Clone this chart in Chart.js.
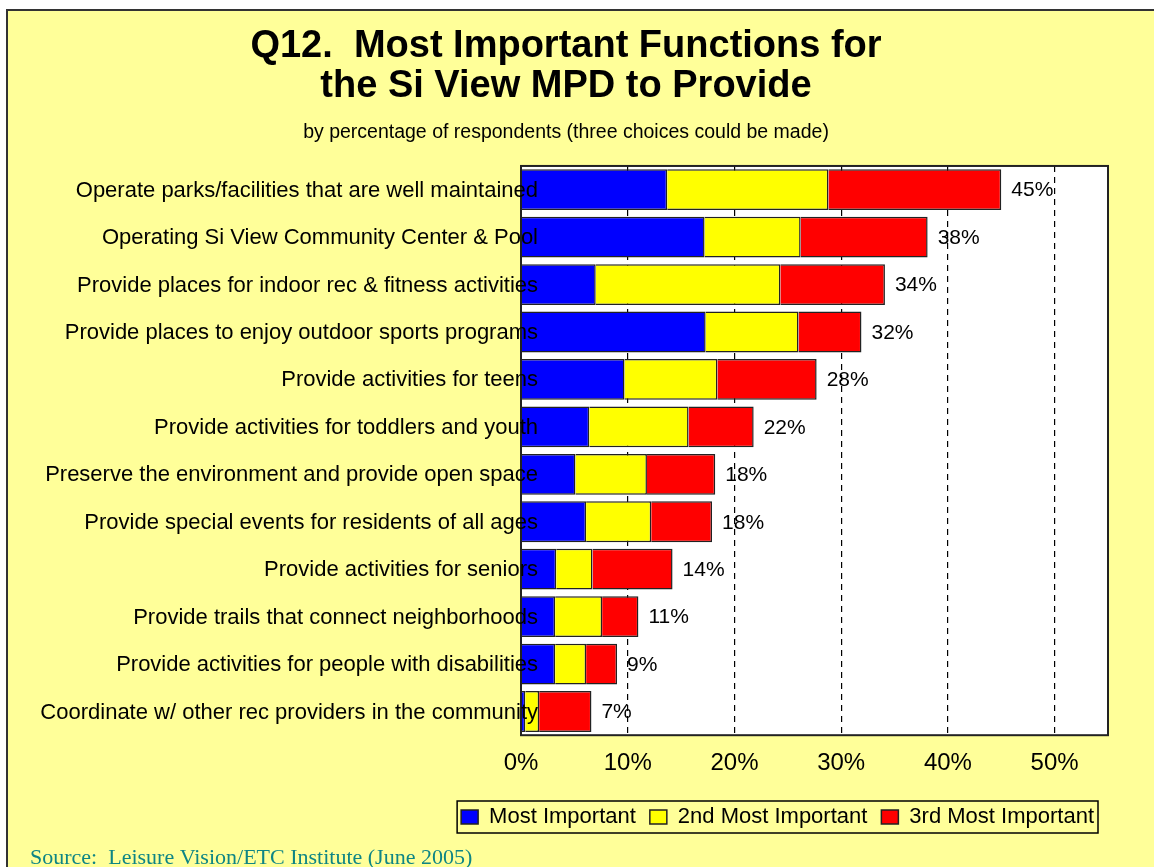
<!DOCTYPE html>
<html>
<head>
<meta charset="utf-8">
<script src="https://cdn.jsdelivr.net/npm/chart.js@4/dist/chart.umd.min.js"></script>
<style>
  html, body { margin: 0; padding: 0; background: #fff; }
  #wrap { width: 1154px; height: 867px; position: relative; }
</style>
</head>
<body>
<div id="wrap"><canvas id="chart"></canvas></div>
<script>
const functions = [
  'Operate parks/facilities that are well maintained',
  'Operating Si View Community Center & Pool',
  'Provide places for indoor rec & fitness activities',
  'Provide places to enjoy outdoor sports programs',
  'Provide activities for teens',
  'Provide activities for toddlers and youth',
  'Preserve the environment and provide open space',
  'Provide special events for residents of all ages',
  'Provide activities for seniors',
  'Provide trails that connect neighborhoods',
  'Provide activities for people with disabilities',
  'Coordinate w/ other rec providers in the community'
];
const mostImportant = [13.7, 17.2, 7.0, 17.3, 9.7, 6.4, 5.1, 6.1, 3.3, 3.2, 3.2, 0.4];
const secondMost = [15.1, 9.0, 17.3, 8.7, 8.7, 9.3, 6.7, 6.1, 3.4, 4.4, 2.9, 1.3];
const thirdMost = [16.2, 11.9, 9.8, 5.9, 9.3, 6.1, 6.4, 5.7, 7.5, 3.4, 2.9, 4.9];
const totals = [45, 38, 34, 32, 28, 22, 18, 18, 14, 11, 9, 7];
const xTicks = [0, 10, 20, 30, 40, 50];

const FONT = '"Liberation Sans", Arial, sans-serif';

// yellow page + frame, white plot area
const framePlugin = {
  id: 'frame',
  beforeDraw(chart) {
    const ctx = chart.ctx, a = chart.chartArea;
    ctx.save();
    ctx.fillStyle = '#ffffff';
    ctx.fillRect(0, 0, chart.width, chart.height);
    ctx.fillStyle = '#FFFF99';
    ctx.fillRect(7, 10, chart.width, chart.height);
    ctx.strokeStyle = '#333';
    ctx.lineWidth = 2;
    ctx.strokeRect(7, 10, chart.width + 10, chart.height + 10);
    ctx.fillStyle = '#ffffff';
    ctx.fillRect(a.left, a.top, a.right - a.left, a.bottom - a.top);
    ctx.restore();
  },
  afterDatasetsDraw(chart) {
    const ctx = chart.ctx, a = chart.chartArea;
    ctx.save();
    ctx.strokeStyle = '#222';
    ctx.lineWidth = 2;
    ctx.strokeRect(a.left, a.top, a.right - a.left, a.bottom - a.top);
    ctx.fillStyle = '#000';
    ctx.textBaseline = 'middle';
    // category names, overlapping the start of the bars like the original
    const ys = chart.scales.y;
    ctx.font = '22px ' + FONT;
    ctx.textAlign = 'right';
    functions.forEach((name, i) => {
      ctx.fillText(name, a.left + 17, ys.getPixelForValue(i) + 1);
    });
    // totals at the end of each bar
    const meta = chart.getDatasetMeta(2);
    ctx.font = '21px ' + FONT;
    ctx.textAlign = 'left';
    meta.data.forEach((bar, i) => {
      ctx.fillText(totals[i] + '%', bar.x + 10, bar.y + 1);
    });
    ctx.restore();
  },
  afterDraw(chart) {
    const ctx = chart.ctx;
    ctx.save();
    // box round the legend
    const boxes = chart.legend.legendHitBoxes;
    if (boxes && boxes.length) {
      const l = Math.min(...boxes.map(b => b.left)) - 4;
      const r = Math.max(...boxes.map(b => b.left + b.width)) + 4;
      const t = Math.min(...boxes.map(b => b.top)) - 5;
      const btm = Math.max(...boxes.map(b => b.top + b.height)) + 5;
      ctx.strokeStyle = '#000';
      ctx.lineWidth = 1.5;
      ctx.strokeRect(l, t, r - l, btm - t);
    }
    ctx.fillStyle = '#0E8585';
    ctx.font = '22px "Liberation Serif", "Times New Roman", serif';
    ctx.textAlign = 'left';
    ctx.textBaseline = 'alphabetic';
    ctx.fillText('Source:  Leisure Vision/ETC Institute (June 2005)', 30, 864);
    ctx.restore();
  }
};

new Chart(document.getElementById('chart'), {
  type: 'bar',
  data: {
    labels: functions,
    datasets: [
      { label: 'Most Important', data: mostImportant, backgroundColor: '#0000FF' },
      { label: '2nd Most Important', data: secondMost, backgroundColor: '#FFFF00' },
      { label: '3rd Most Important', data: thirdMost, backgroundColor: '#FF0000' }
    ].map(d => Object.assign(d, { borderColor: '#222', borderWidth: 1.5, categoryPercentage: 1, barPercentage: 0.86 }))
  },
  options: {
    indexAxis: 'y',
    responsive: true,
    maintainAspectRatio: false,
    animation: false,
    layout: { padding: { top: 0, left: 24, right: 46, bottom: 29 } },
    scales: {
      x: {
        stacked: true,
        min: 0,
        max: 55,
        afterBuildTicks: s => { s.ticks = xTicks.map(v => ({ value: v })); },
        grid: {
          color: c => c.tick && c.tick.value === 0 ? 'rgba(0,0,0,0)' : '#000',
          lineWidth: 1.2,
          drawTicks: false
        },
        border: { display: false, dash: [6, 5] },
        ticks: {
          callback: v => v + '%',
          color: '#000',
          font: { family: FONT, size: 24 },
          padding: 14
        }
      },
      y: {
        stacked: true,
        afterFit: s => { s.width = 497; },
        grid: { display: false, drawTicks: false },
        border: { display: false },
        ticks: { display: false }
      }
    },
    plugins: {
      title: {
        display: true,
        text: ['Q12.  Most Important Functions for', 'the Si View MPD to Provide'],
        color: '#000',
        font: { family: FONT, size: 38, weight: 'bold', lineHeight: 1.06 },
        padding: { top: 26, bottom: 14 }
      },
      subtitle: {
        display: true,
        text: 'by percentage of respondents (three choices could be made)',
        color: '#000',
        font: { family: FONT, size: 19.5 },
        padding: { top: 0, bottom: 22 }
      },
      legend: {
        position: 'bottom',
        align: 'end',
        labels: {
          color: '#000',
          font: { family: FONT, size: 22 },
          boxWidth: 17,
          boxHeight: 14,
          padding: 14
        }
      },
      tooltip: { enabled: false }
    }
  },
  plugins: [framePlugin]
});
</script>
</body>
</html>
